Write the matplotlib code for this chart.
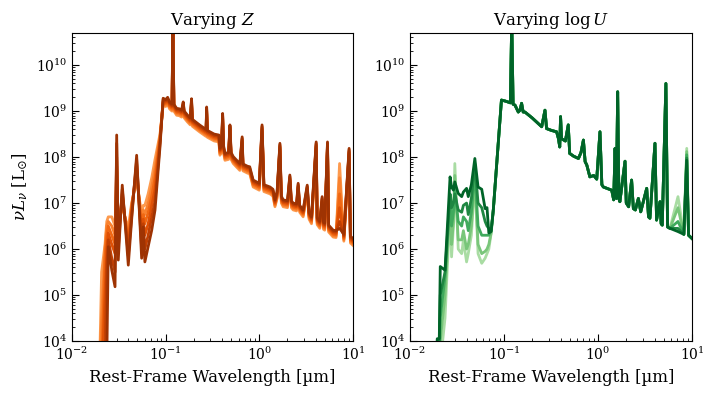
import numpy as np
import matplotlib
matplotlib.use("Agg")
import matplotlib.pyplot as plt

plt.rcParams['font.family'] = 'DejaVu Serif'
plt.rcParams['mathtext.fontset'] = 'dejavuserif'

# ---- left panel: varying Z (log10 nuL_nu in Lsun) ----
# UV part, one array per Z (light -> dark)
wave_uv_z = [0.0195, 0.0207, 0.0225, 0.0235, 0.0244, 0.0266, 0.0288, 0.0300, 0.0312, 0.0344,
             0.0399, 0.0433, 0.0490, 0.0554, 0.0577, 0.0600, 0.0650, 0.0710, 0.0770, 0.0870]
uv_z1 = [3.0, 5.5, 6.1, 6.6, 6.7, 6.7, 6.5, 7.2, 6.6, 6.9, 6.45, 7.0, 7.5, 6.75, 6.95, 6.95, 7.2, 7.55, 7.95, 8.5]
uv_z2 = [3.0, 4.5, 6.0, 6.5, 6.6, 6.5, 6.3, 7.5, 6.5, 7.0, 6.3, 6.95, 7.6, 6.6, 6.85, 6.75, 7.0, 7.35, 7.75, 8.45]
uv_z3 = [3.0, 3.5, 5.8, 6.3, 6.5, 6.3, 6.1, 7.8, 6.4, 7.1, 6.15, 6.9, 7.7, 6.4, 6.75, 6.55, 6.8, 7.15, 7.55, 8.4]
uv_z4 = [3.0, 3.0, 5.0, 6.0, 6.35, 6.1, 5.9, 8.0, 6.2, 7.2, 6.0, 6.8, 7.85, 6.2, 6.65, 6.3, 6.55, 6.95, 7.3, 8.35]
uv_z5 = [3.0, 3.0, 3.5, 5.6, 6.2, 5.8, 5.5, 8.3, 6.0, 7.3, 5.85, 6.7, 7.95, 6.0, 6.55, 6.0, 6.3, 6.7, 7.05, 8.3]
uv_z6 = [3.0, 3.0, 3.0, 3.5, 6.05, 5.54, 5.18, 8.48, 5.76, 7.39, 5.65, 6.63, 8.04, 5.80, 6.48, 5.72, 6.05, 6.41, 6.85, 8.22]
# optical / IR part, shared, with a small offset per Z
wave_opt_z = [0.094, 0.100, 0.105, 0.110, 0.117, 0.1195, 0.1225, 0.131, 0.140, 0.148, 0.154, 0.158,
              0.170, 0.183, 0.189, 0.193, 0.23, 0.27, 0.274, 0.279, 0.33, 0.37, 0.38, 0.395, 0.406,
              0.415, 0.43, 0.47, 0.486, 0.50, 0.527, 0.58, 0.62, 0.656, 0.67, 0.75, 0.79, 0.86,
              1.0, 1.07, 1.12, 1.30, 1.40, 1.47, 1.55, 1.66, 1.72, 1.80, 2.0, 2.12, 2.2, 2.30,
              2.5, 2.60, 2.7, 2.94, 3.25, 3.4, 3.61, 4.05, 4.15, 4.43, 4.69, 4.85, 5.0, 5.35,
              5.5, 6.15, 6.6, 7.2, 8.0, 9.1, 9.4, 10.0]
opt_z = [9.28, 9.25, 9.30, 9.20, 9.15, 11.0, 9.15, 9.06, 9.05, 9.02, 9.20, 9.0,
         8.92, 8.85, 9.27, 8.82, 8.70, 8.60, 9.09, 8.58, 8.50, 8.48, 8.19, 8.25, 8.95,
         8.25, 8.08, 8.10, 8.70, 8.10, 8.01, 7.92, 7.86, 8.44, 7.85, 7.80, 7.79, 7.50,
         7.43, 8.70, 7.40, 7.35, 7.30, 7.07, 7.25, 8.30, 7.15, 7.07, 7.05, 7.61, 7.05, 7.0,
         6.98, 7.43, 6.95, 6.85, 7.39, 6.80, 6.70, 8.33, 6.68, 6.60, 7.14, 6.58, 6.56, 8.33,
         6.52, 6.41, 6.40, 6.45, 6.32, 8.19, 6.28, 6.23]
z_offset = [-0.15, -0.12, -0.09, -0.06, -0.03, 0.0]
z_line72 = [7.86, 7.55, 7.2, 6.9, 6.6, 6.45]   # 7.2 um feature, per Z

# ---- right panel: varying log U ----
wave_uv_u = [0.0185, 0.0195, 0.0205, 0.0210, 0.0236, 0.0267, 0.0277, 0.0290, 0.0300, 0.0326, 0.0355,
             0.0370, 0.0400, 0.0417, 0.0450, 0.0490, 0.0530, 0.0580, 0.0630, 0.0660, 0.0690, 0.0730, 0.0770]
uv_u1 = [3.0, 3.0, 3.0, 3.5, 4.5, 6.9, 5.83, 6.5, 7.86, 6.0, 5.9, 6.2, 5.72, 5.9, 6.3, 7.5, 5.9, 5.69, 5.8, 5.9, 6.0, 6.34, 6.85]
uv_u2 = [3.0, 3.0, 3.0, 4.0, 5.0, 7.0, 6.1, 6.6, 7.6, 6.2, 6.2, 6.4, 6.0, 6.1, 6.5, 7.6, 6.1, 5.9, 5.95, 6.0, 6.1, 6.35, 6.85]
uv_u3 = [3.0, 3.0, 3.5, 4.5, 5.4, 7.1, 6.5, 6.8, 7.3, 6.6, 6.5, 6.7, 6.6, 6.4, 6.8, 7.7, 6.5, 6.3, 6.3, 6.3, 6.3, 6.4, 6.85]
uv_u4 = [3.0, 3.5, 4.0, 5.0, 5.5, 7.2, 6.9, 7.0, 7.2, 6.85, 6.8, 6.95, 7.0, 6.75, 7.1, 7.85, 7.0, 6.9, 6.6, 6.5, 6.45, 6.4, 6.85]
uv_u5 = [3.0, 4.05, 4.05, 5.62, 5.54, 7.57, 7.35, 7.28, 7.46, 7.21, 7.14, 7.24, 7.32, 7.14, 7.4, 7.97, 7.35, 7.3, 6.88, 6.9, 6.35, 6.38, 6.85]
wave_opt_u = [0.094, 0.1026, 0.110, 0.117, 0.121, 0.125, 0.131, 0.142, 0.148, 0.154, 0.160, 0.167,
              0.200, 0.252, 0.273, 0.284, 0.32, 0.363, 0.38, 0.392, 0.40, 0.41, 0.45, 0.483,
              0.50, 0.55, 0.62, 0.66, 0.70, 0.73, 0.76, 0.82, 0.90, 0.97, 1.05, 1.10, 1.14,
              1.40, 1.47, 1.52, 1.57, 1.62, 1.67, 1.71, 1.94, 2.0, 2.12, 2.28, 2.38, 2.50,
              2.69, 2.85, 3.30, 3.45, 3.57, 4.04, 4.2, 4.57, 4.7, 4.83, 5.28, 5.5, 5.83,
              7.1, 8.2, 8.8, 9.2, 10.0]
opt_u = [9.24, 9.22, 9.20, 9.18, 11.0, 9.15, 9.13, 8.98, 9.02, 9.17, 8.98, 8.98,
         8.85, 8.66, 9.02, 8.62, 8.58, 8.55, 8.40, 8.22, 8.88, 8.40, 8.35, 8.70,
         8.08, 8.02, 7.97, 8.10, 8.37, 7.90, 7.83, 7.57, 7.60, 7.52, 8.55, 7.40, 7.35,
         7.28, 7.07, 8.19, 7.10, 9.42, 7.10, 7.03, 7.91, 7.00, 6.92, 7.50, 6.88, 6.85,
         7.10, 6.81, 7.32, 6.70, 6.67, 8.30, 6.63, 7.03, 6.55, 6.52, 9.60, 6.48, 6.45,
         6.38, 6.32, 7.93, 6.30, 6.23]
u_line71 = [7.14, 6.9, 6.6, 6.45, 6.38]    # 7.1 um feature, per U
u_line88 = [8.19, 8.12, 8.05, 7.98, 7.93]  # 8.8 um feature, per U

uv_z = [uv_z1, uv_z2, uv_z3, uv_z4, uv_z5, uv_z6]
uv_u = [uv_u1, uv_u2, uv_u3, uv_u4, uv_u5]

fig = plt.figure(figsize=(7.13, 4.0), dpi=100)
ax1 = fig.add_axes([0.101, 0.1475, 0.394, 0.77])
ax2 = fig.add_axes([0.575, 0.1475, 0.3955, 0.77])

i72 = wave_opt_z.index(7.2)
cols_z = plt.cm.Oranges(np.linspace(0.45, 0.9, len(uv_z)))
for i in range(len(uv_z)):
    opt = [v + z_offset[i] for v in opt_z]
    opt[i72] = z_line72[i]
    w = np.array(wave_uv_z + wave_opt_z)
    l = np.array(uv_z[i] + opt)
    ax1.plot(w, 10**l, color=cols_z[i], lw=2)

i71 = wave_opt_u.index(7.1)
i88 = wave_opt_u.index(8.8)
cols_u = plt.cm.Greens(np.linspace(0.35, 0.9, len(uv_u)))
for i in range(len(uv_u)):
    opt = list(opt_u)
    opt[i71] = u_line71[i]
    opt[i88] = u_line88[i]
    w = np.array(wave_uv_u + wave_opt_u)
    l = np.array(uv_u[i] + opt)
    ax2.plot(w, 10**l, color=cols_u[i], lw=2)

for ax in (ax1, ax2):
    ax.set_xscale('log')
    ax.set_yscale('log')
    ax.set_xlim(1e-2, 1e1)
    ax.set_ylim(1e4, 5e10)
    ax.tick_params(which='both', direction='in', top=False, right=False)
    ax.tick_params(which='major', length=5)
    ax.tick_params(which='minor', length=2.5)
    ax.set_xlabel('Rest-Frame Wavelength [µm]', fontsize=12)

ax1.set_ylabel(r'$\nu L_{\nu}$ [L$_{\odot}$]', fontsize=12)
ax1.set_title(r'Varying $Z$', fontsize=12)
ax2.set_title(r'Varying $\log U$', fontsize=12)

fig.savefig('out.png', dpi=100)
